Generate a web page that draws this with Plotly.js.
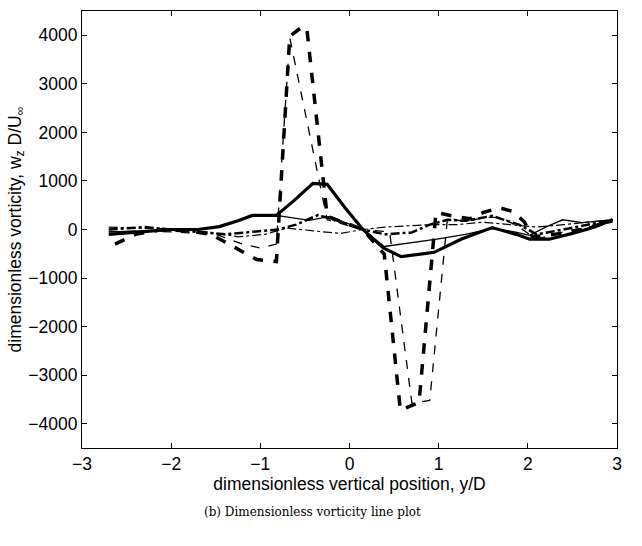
<!DOCTYPE html>
<html><head><meta charset="utf-8">
<script src="https://cdn.plot.ly/plotly-3.0.1.min.js"></script>
<style>html,body{margin:0;padding:0;background:#fff}#c{width:642px;height:546px}</style>
</head><body><div id="c"></div>
<script>
// y/D positions and vorticity values for each profile
const thickSolidX = [-2.7, -2.3, -2.0, -1.7, -1.46, -1.25, -1.09, -0.82, -0.62, -0.41, -0.25, -0.05, 0.15, 0.38, 0.58, 0.95, 1.25, 1.6, 1.87, 2.02, 2.24, 2.5, 2.75, 2.95];
const thickSolidY = [-100, -50, 0, 0, 60, 180, 290, 290, 600, 950, 930, 450, 0, -380, -560, -470, -200, 40, -100, -200, -200, -80, 50, 200];

const thinSolidX = [-2.7, -2.3, -2.0, -1.7, -1.46, -1.09, -0.82, -0.45, -0.22, 0.15, 0.39, 0.98, 1.3, 1.6, 1.85, 2.02, 2.2, 2.39, 2.61, 2.95];
const thinSolidY = [-50, -30, 0, 0, 60, 280, 290, 190, 270, 0, -350, -200, -100, 20, -50, -120, 50, 200, 140, 200];

const thickDashX = [-2.63, -2.4, -2.1, -1.8, -1.55, -1.04, -0.82, -0.67, -0.54, -0.48, -0.25, 0.0, 0.15, 0.39, 0.57, 0.78, 0.97, 1.18, 1.35, 1.5, 1.68, 1.83, 1.96, 2.05, 2.3, 2.6, 2.95];
const thickDashY = [-300, -100, 0, -30, -100, -620, -660, 3980, 4160, 4160, 270, 100, 0, -510, -3720, -3560, 350, 270, 220, 350, 450, 370, 160, -150, -100, 0, 180];

const thinDashX = [-2.7, -2.3, -2.0, -1.5, -1.2, -1.0, -0.82, -0.67, -0.25, 0.0, 0.15, 0.45, 0.7, 0.9, 1.1, 1.3, 1.5, 1.7, 1.9, 2.1, 2.4, 2.95];
const thinDashY = [-50, -30, -50, -100, -300, -380, -300, 3950, 200, 80, 0, -50, -3580, -3520, 250, 150, 250, 250, 50, -200, -50, 150];

const thickDashDotX = [-2.7, -2.3, -2.0, -1.7, -1.4, -1.1, -0.8, -0.6, -0.35, -0.1, 0.15, 0.4, 0.7, 0.9, 1.1, 1.3, 1.6, 1.9, 2.1, 2.4, 2.95];
const thickDashDotY = [0, 50, 0, -50, -100, -50, 0, 100, 300, 150, 0, -100, -60, 100, 200, 180, 280, 100, -100, 0, 200];

const thinDashDotX = [-2.7, -2.0, -1.6, -1.25, -0.95, -0.7, -0.4, -0.1, 0.15, 0.4, 0.7, 0.9, 1.2, 1.5, 1.8, 2.1, 2.4, 2.95];
const thinDashDotY = [50, 0, -50, -150, -100, 30, -30, -80, 0, 50, 80, 100, 100, 150, 100, 50, 100, 200];

const xTicks = [-3, -2, -1, 0, 1, 2, 3];
const yTicks = [-4000, -3000, -2000, -1000, 0, 1000, 2000, 3000, 4000];

const line = (x, y, w, dash) => ({x, y, type: 'scatter', mode: 'lines',
  line: {color: '#000', width: w, dash: dash}, hoverinfo: 'skip'});

const data = [
  line(thinDashDotX, thinDashDotY, 1.2, 'dashdot'),
  line(thickDashDotX, thickDashDotY, 2.5, 'dashdot'),
  line(thinSolidX, thinSolidY, 1.3, 'solid'),
  line(thinDashX, thinDashY, 1.3, 'dash'),
  line(thickDashX, thickDashY, 3.5, 'dash'),
  line(thickSolidX, thickSolidY, 3.2, 'solid')
];

const fnt = {family: 'Liberation Sans, Arial, sans-serif', size: 17.5, color: '#000'};
const layout = {
  width: 642, height: 546,
  margin: {l: 82, r: 25, t: 11, b: 98},
  paper_bgcolor: '#fff', plot_bgcolor: '#fff',
  showlegend: false,
  font: fnt,
  xaxis: {range: [-3, 3], tickvals: xTicks, ticktext: xTicks.map(v => v < 0 ? '\u2212' + Math.abs(v) : String(v)),
    ticks: 'inside', ticklen: 5, tickcolor: '#000', showline: true, linecolor: '#000', linewidth: 1,
    mirror: 'ticks', showgrid: false, zeroline: false, tickfont: fnt,
    title: {text: 'dimensionless vertical position, y/D', font: fnt, standoff: 0}},
  yaxis: {range: [-4500, 4500], tickvals: yTicks, ticktext: yTicks.map(v => v < 0 ? '\u2212' + Math.abs(v) : String(v)),
    ticks: 'inside', ticklen: 5, tickcolor: '#000', showline: true, linecolor: '#000', linewidth: 1,
    mirror: 'ticks', showgrid: false, zeroline: false, tickfont: fnt,
    title: {text: 'dimensionless vorticity, w<sub>z</sub> D/U<sub>\u221e</sub>', font: fnt, standoff: 2}},
  annotations: [{text: '(b) Dimensionless vorticity line plot', xref: 'paper', yref: 'paper',
    x: 0.43, y: -0.146, xanchor: 'center', yanchor: 'middle', showarrow: false,
    font: {family: 'DejaVu Serif, Liberation Serif, serif', size: 12, color: '#000'}}]
};
Plotly.newPlot('c', data, layout, {displayModeBar: false, staticPlot: true});
</script></body></html>
